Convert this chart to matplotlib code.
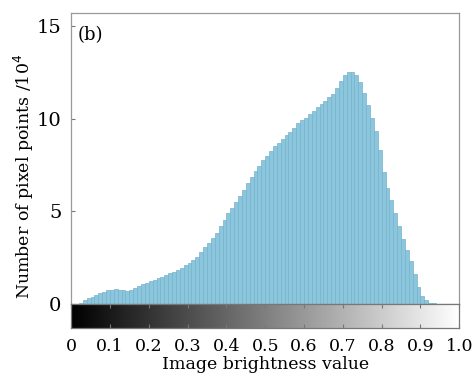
import matplotlib
matplotlib.use("Agg")
import matplotlib.pyplot as plt
import numpy as np

plt.rcParams['font.family'] = ['DejaVu Serif']

# histogram bins: left edges of 0.01-wide brightness bins
bin_left = np.arange(0, 1.0, 0.01)
# counts (x10^4)
counts = [
    0.00, 0.02, 0.08, 0.20, 0.30, 0.40, 0.50, 0.59, 0.67, 0.74,
    0.78, 0.79, 0.77, 0.73, 0.72, 0.75, 0.84, 0.95, 1.06, 1.15,
    1.23, 1.31, 1.38, 1.47, 1.56, 1.65, 1.74, 1.84, 1.96, 2.08,
    2.20, 2.36, 2.55, 2.80, 3.05, 3.30, 3.55, 3.85, 4.20, 4.55,
    4.90, 5.20, 5.50, 5.80, 6.15, 6.50, 6.85, 7.15, 7.45, 7.75,
    8.00, 8.25, 8.50, 8.70, 8.90, 9.10, 9.30, 9.50, 9.75, 9.90,
    10.05, 10.25, 10.40, 10.60, 10.80, 10.95, 11.15, 11.30, 11.65, 12.05,
    12.35, 12.52, 12.50, 12.35, 11.95, 11.40, 10.75, 10.05, 9.35, 8.30,
    7.10, 6.25, 5.60, 4.90, 4.20, 3.50, 2.90, 2.30, 1.60, 0.90,
    0.45, 0.20, 0.08, 0.03, 0.01, 0.00, 0.00, 0.00, 0.00, 0.00,
]
yticks = [0, 5, 10, 15]
xticks = [0, 0.1, 0.2, 0.3, 0.4, 0.5, 0.6, 0.7, 0.8, 0.9, 1.0]
xticklabels = ["0", "0.1", "0.2", "0.3", "0.4", "0.5", "0.6", "0.7", "0.8", "0.9", "1.0"]

fig = plt.figure(figsize=(4.74, 3.8), dpi=100)
ax = fig.add_axes([0.150, 0.200, 0.819, 0.766])
cax = fig.add_axes([0.150, 0.137, 0.819, 0.063])

ax.bar(bin_left, counts, width=0.01, align='edge', color='#8cc6dd',
       edgecolor='#74b2cd', linewidth=0.5)
ax.set_xlim(0, 1)
ax.set_ylim(0, 15.7)
ax.set_yticks(yticks)
ax.set_yticklabels([str(t) for t in yticks], fontsize=14)
ax.tick_params(axis='y', direction='in', length=3, color='#777777', pad=7)
ax.set_xticks([])
for s in ax.spines.values():
    s.set_color('#999999')
    s.set_linewidth(0.9)
ax.text(0.018, 0.955, "(b)", transform=ax.transAxes, fontsize=13, va='top', ha='left')
fig.text(24 / 474, 1 - 176 / 380, "Number of pixel points /10$^4$", rotation=90,
         fontsize=12.5, ha='center', va='center')

grad = np.linspace(0, 1, 256).reshape(1, -1)
cax.imshow(grad, cmap='gray', aspect='auto', extent=[0, 1, 0, 1])
cax.set_xlim(0, 1)
cax.set_yticks([])
cax.set_xticks(xticks)
cax.set_xticklabels(xticklabels, fontsize=12.5)
cax.tick_params(axis='x', direction='in', length=3, color='#777777', pad=7,
                top=True, bottom=True)
for s in cax.spines.values():
    s.set_color('#777777')
    s.set_linewidth(0.9)
cax.set_xlabel("Image brightness value", fontsize=12.5, labelpad=1)

fig.savefig("out.png", dpi=100)
